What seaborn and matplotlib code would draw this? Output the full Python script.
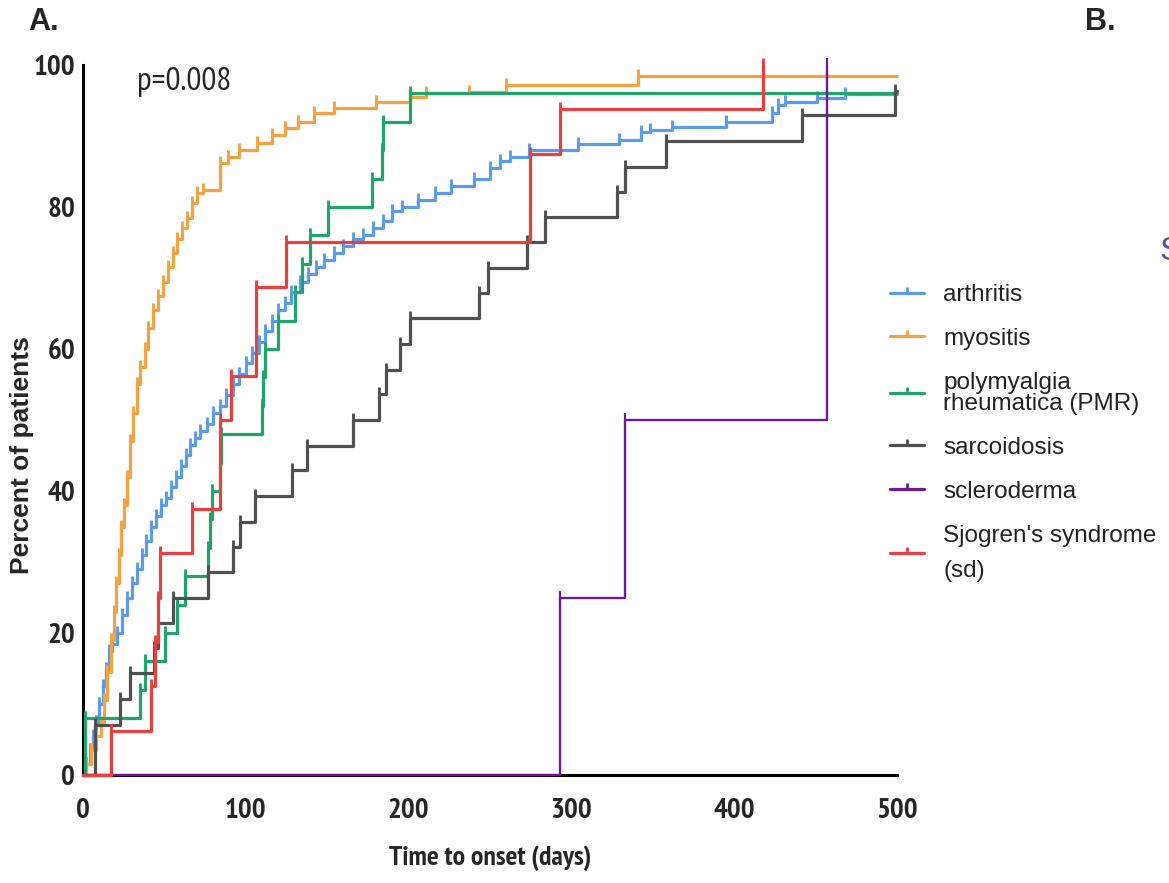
import matplotlib
matplotlib.use('Agg')
import matplotlib.pyplot as plt
from matplotlib import font_manager
from matplotlib.path import Path
from matplotlib.lines import Line2D
import pandas as pd
import seaborn as sns

# cumulative onset curves (days, percent of patients after each step)
arthritis_days = [2, 4, 6, 8, 10, 12, 14, 16, 18, 21, 24, 27, 30, 33, 36, 39, 42, 45, 48, 51,
                  54, 57, 60, 63, 66, 69, 72, 76, 80, 84, 88, 92, 96, 100, 104, 108, 112, 116,
                  120, 124, 128, 133, 138, 143, 148, 154, 160, 166, 172, 178, 184, 190, 196,
                  206, 216, 226, 240, 250, 256, 262, 274, 304, 329, 343, 348, 362, 395, 423,
                  427, 431, 451, 468]
arthritis_pct = [1.5, 3.5, 5.5, 7.5, 10, 12.5, 15, 17.5, 18.5, 20, 22.5, 25, 27, 29, 31, 33, 35,
                 36.5, 38, 39, 40.5, 42, 43.5, 45, 46.5, 47.5, 48.5, 49.5, 51, 52, 53.5, 55,
                 56.5, 58, 59.5, 61, 62.5, 64, 65.5, 66.5, 68, 69.5, 70.5, 71.5, 72.5, 73.5,
                 74.5, 75.5, 76, 77, 78, 79.5, 80, 81, 82, 83, 84, 85.5, 86.5, 87, 88, 88.9,
                 89.5, 90.5, 90.8, 91.3, 92, 93.2, 94.4, 94.8, 95.3, 95.9]

myositis_days = [2, 5, 8, 11, 13, 15, 17, 19, 20.5, 22, 23.5, 25, 27, 29, 31, 33, 35, 38, 40,
                 43, 46, 49, 52, 55, 58, 61, 64, 67, 70, 74, 84, 89, 96, 107, 116, 124, 132,
                 142, 154, 180, 201, 211, 237, 260, 341]
myositis_pct = [1.5, 3.5, 5.5, 7.3, 10.5, 14.5, 19, 23, 27, 31, 35, 38, 42, 47, 51, 55, 57.5,
                60, 63, 65.5, 67.5, 69.5, 71.5, 73.5, 75.5, 77, 78.5, 80.5, 82, 82.4, 86.2,
                87.1, 88, 89, 90.1, 91.1, 92, 93.2, 94, 94.8, 95.5, 96, 96.2, 97.2, 98.4]

pmr_days = [1, 35, 38, 50.4, 57.5, 62.7, 77, 78, 79.5, 84, 85, 109.7, 110.5, 111.5, 120, 130.2,
            134.3, 139.4, 150.7, 177.3, 183.5, 184.5, 201]
pmr_pct = [8, 12, 16, 20, 24, 28, 32, 36, 40, 44, 48, 52, 56, 60, 64, 68, 72, 76, 80, 84, 88,
           92, 96]

sarcoidosis_days = [7.4, 22.7, 28.9, 43.6, 46.3, 55.5, 77, 91.9, 96.4, 105.6, 128.2, 137.4, 166,
                    182, 186, 195, 201, 243.5, 249, 272.5, 283.8, 327.8, 333, 358, 441.5, 499]
sarcoidosis_pct = [7.1, 10.7, 14.3, 17.9, 21.4, 25, 28.6, 32.1, 35.7, 39.3, 42.9, 46.4, 50, 53.6,
                   57.1, 60.7, 64.3, 67.9, 71.4, 75, 78.6, 82.1, 85.7, 89.3, 92.9, 96.4]

scleroderma_days = [293, 333, 457]
scleroderma_pct = [25, 50, 100]

sjogren_days = [17, 42, 44, 46, 47.5, 67, 84, 91, 106.5, 125, 274.6, 293, 418]
sjogren_pct = [6.25, 12.5, 18.75, 25, 31.25, 37.5, 50, 56.25, 68.75, 75, 87.5, 93.75, 100]

groups = ['arthritis', 'myositis', 'polymyalgia\nrheumatica (PMR)', 'sarcoidosis',
          'scleroderma', "Sjogren's syndrome\n(sd)"]
all_days = [arthritis_days, myositis_days, pmr_days, sarcoidosis_days, scleroderma_days, sjogren_days]
all_pct = [arthritis_pct, myositis_pct, pmr_pct, sarcoidosis_pct, scleroderma_pct, sjogren_pct]
last_followup = [500, 500, 500, 500, 457, 418]
colors = ['#5b9bec', '#f4a342', '#1fa56c', '#505050', '#6a1a9a', '#e8403f']
widths = [2.3, 2.3, 2.3, 2.3, 1.7, 2.3]

sns.set_style('white')
# narrow bold face for the numbers, like Arial Narrow in the original
bold_faces = {f.name for f in font_manager.fontManager.ttflist if f.weight in (700, 'bold')}
narrow = 'DejaVu Sans'
for cand in ['Liberation Sans Narrow', 'Arial Narrow', 'Archivo Narrow', 'PT Sans Narrow',
             'Roboto Condensed', 'Pragati Narrow', 'Open Sans Condensed', 'Encode Sans Condensed']:
    if cand in bold_faces:
        narrow = cand
        break
plt.rcParams['font.family'] = ['Liberation Sans', 'DejaVu Sans']

tick = Path([(0, 0), (0, 1)])

fig = plt.figure(figsize=(11.69, 8.83), dpi=100)
ax = fig.add_axes([0.0710, 0.1223, 0.6963, 0.8041])

for name, days, pct, end, c, lw in zip(groups, all_days, all_pct, last_followup, colors, widths):
    df = pd.DataFrame({'days': [0] + days, 'pct': [0] + pct})
    if end > days[-1]:
        df.loc[len(df)] = [end, pct[-1]]
    sns.lineplot(data=df, x='days', y='pct', drawstyle='steps-post', color=c, lw=lw,
                 estimator=None, sort=False, ax=ax, clip_on=False, zorder=3)
    ax.plot(days, pct, ls='none', marker=tick, ms=10, mew=lw * 0.9, mec=c,
            clip_on=False, zorder=3)

ax.set_xlim(0, 500)
ax.set_ylim(0, 100)
ax.set_xticks(range(0, 501, 100))
ax.set_yticks(range(0, 101, 20))
sns.despine(ax=ax)
for s in ['left', 'bottom']:
    ax.spines[s].set_linewidth(2.2)
    ax.spines[s].set_color('black')
ax.tick_params(direction='out', length=5.5, width=2.2, color='black')
ax.tick_params(axis='y', pad=0)
ax.tick_params(axis='x', pad=11)
ax.set_xticklabels([str(v) for v in range(0, 501, 100)], fontfamily=narrow,
                   fontweight='bold', fontsize=21)
ax.set_yticklabels([str(v) for v in range(0, 101, 20)], fontfamily=narrow,
                   fontweight='bold', fontsize=21)

ax.set_xlabel('Time to onset (days)', fontfamily=narrow, fontweight='bold', fontsize=20,
              va='center')
ax.xaxis.set_label_coords(0.5, -0.117)
ax.set_ylabel('Percent of patients', fontweight='bold', fontsize=19, va='center')
ax.yaxis.set_label_coords(-0.075, 0.45)
ax.text(33, 97.6, 'p=0.008', fontfamily=narrow, fontsize=24, va='center', ha='left')

handles = [Line2D([0], [0], color=c, lw=2.3, marker=tick, ms=9, mew=2, mec=c) for c in colors]
leg = fig.legend(handles, groups, loc='upper left', bbox_to_anchor=(890 / 1169, 1 - 284 / 883),
                 frameon=False, fontsize=17.5, handlelength=1.4, handletextpad=0.8,
                 labelspacing=0.9, borderpad=0, borderaxespad=0)
for t in leg.get_texts():
    t.set_color('#222222')
leg.get_texts()[2].set_linespacing(0.95)
leg.get_texts()[5].set_linespacing(1.8)

fig.text(28 / 1169, 1 - 22 / 883, 'A.', fontsize=22, fontweight='bold', va='center')
fig.text(1085 / 1169, 1 - 22 / 883, 'B.', fontsize=22, fontweight='bold', va='center')
fig.text(1159 / 1169, 1 - 251 / 883, 'S', fontsize=24, color='#5a4fa0', va='center')

fig.savefig('out.png', dpi=100)
